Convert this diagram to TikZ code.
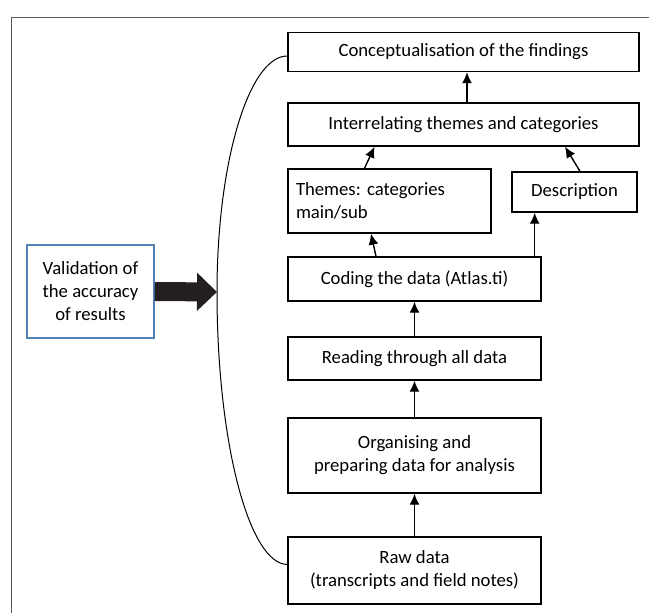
\documentclass[tikz,border=0pt]{standalone}
\usepackage{fontspec}
\setmainfont{Carlito}
\usepackage{tikz}
\usetikzlibrary{calc,shapes,arrows.meta}
\definecolor{framegray}{RGB}{90,90,90}
\definecolor{valblue}{RGB}{84,130,185}
\definecolor{fatblack}{RGB}{35,31,32}
\frenchspacing

\begin{document}
\begin{tikzpicture}[x=1pt,y=-1pt,
        box/.style={draw=black,line width=1.4pt,rectangle,align=center,inner sep=6pt,
            font=\fontsize{18.7}{23}\selectfont},
        flow/.style={-{Latex[length=11pt,width=10pt]},line width=1.4pt}]
    \useasboundingbox (0,0) rectangle (649,613);
    % outer frame (cut at the page edge)
    \draw[framegray,line width=1.6pt] (11.5,613) -- (11.5,17.5) -- (649,17.5);

    \node[box,minimum width=351,minimum height=39] (concept) at (463.5,52) {Conceptualisation of the findings};
    \node[box,minimum width=351,minimum height=43] (interrel) at (463.5,124.5) {Interrelating themes and categories};
    \node[box,minimum width=203,minimum height=64,align=left,text width=187,inner sep=8pt] (themes) at (389.5,201)
        {Themes: categories\\main/sub};
    \node[box,minimum width=125,minimum height=40] (desc) at (574.5,192) {Description};
    \node[box,minimum width=253,minimum height=44] (coding) at (414.5,279) {Coding the data (Atlas.ti)};
    \node[box,minimum width=253,minimum height=43] (reading) at (414.5,358.5) {Reading through all data};
    \node[box,minimum width=253,minimum height=75] (organ) at (414.5,455.5) {Organising and\\preparing data for analysis};
    \node[box,minimum width=253,minimum height=67] (raw) at (414.5,570.5) {Raw data\\(transcripts and field notes)};
    \node[box,draw=valblue,minimum width=127,minimum height=93] (valid) at (90.5,291.5) {Validation of\\the accuracy\\of results};

    \draw[flow] (interrel.north) ++(3.5,0) coordinate (i1) -- (i1 |- concept.south);
    \draw[flow] ($(themes.north)+(-25,0)$) -- ($(interrel.south)+(-89,0)$);
    \draw[flow] ($(desc.north)+(5.5,0)$) -- ($(interrel.south)+(101.5,0)$);
    \draw[flow] ($(coding.north)+(-38.5,0)$) -- ($(themes.south)+(-18.5,0)$);
    \draw[flow] (coding.north east) ++(-7,0) coordinate (c1) -- (c1 |- desc.south);
    \draw[flow] (reading) -- (coding);
    \draw[flow] (organ) -- (reading);
    \draw[flow] (raw) -- (organ);

    % bracket and thick arrow
    \coordinate (bend) at (217,292);
    \draw[line width=1pt] ($(concept.west)+(0,4)$) .. controls (249,56) and (217,162) .. (bend)
        .. controls (217,442) and (249,564) .. ($(raw.west)+(0,-6)$);
    \draw[fatblack,line width=19pt,-{Triangle[length=20pt,width=37pt]}] (valid.east) -- (bend);
\end{tikzpicture}
\end{document}
